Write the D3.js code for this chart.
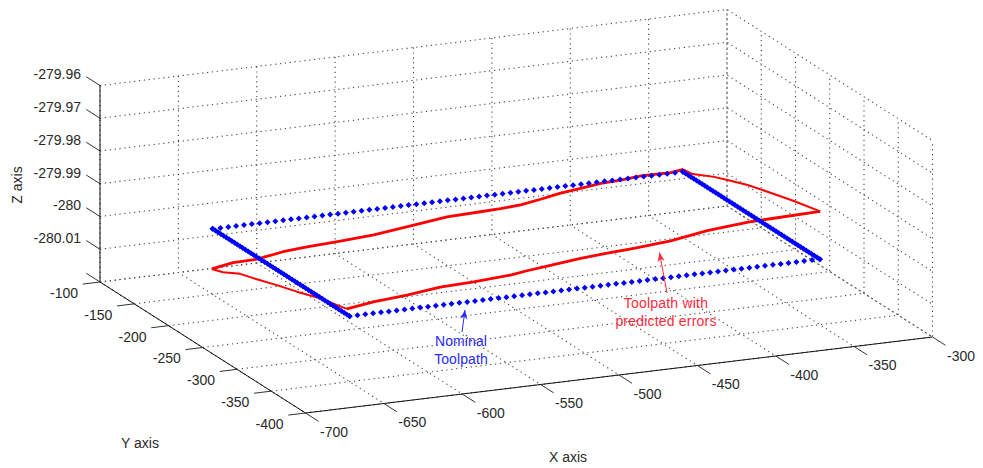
<!DOCTYPE html>
<html>
<head>
<meta charset="utf-8">
<title>Toolpath</title>
<script src="https://cdn.jsdelivr.net/npm/d3@7"></script>
<style>
body { margin: 0; background: #fff; }
text { font-family: "Liberation Sans", Arial, sans-serif; font-size: 14px; fill: #2a2a2a; }
</style>
</head>
<body>
<div id="Chart"></div>
<script>
// ------------------------------------------------------------------
//	toolpath_3d.js
// ------------------------------------------------------------------
const x_ticks = [-700,-650,-600,-550,-500,-450,-400,-350,-300]
const y_ticks = [-100,-150,-200,-250,-300,-350,-400]
const z_ticks = [-279.96,-279.97,-279.98,-279.99,-280,-280.01,-280.02]
const z_labels = ["-279.96","-279.97","-279.98","-279.99","-280","-280.01",""]

// nominal rectangle
const nominal_z = -280
const nominal_x_near = -650
const nominal_x_far = -350
const nominal_y_back = -150
const nominal_y_front = -350
const nominal_long = [-650,-645,-640,-635,-630,-625,-620,-615,-610,-605,-600,-595,-590,-585,-580,-575,-570,-565,-560,-555,-550,-545,-540,-535,-530,-525,-520,-515,-510,-505,-500,-495,-490,-485,-480,-475,-470,-465,-460,-455,-450,-445,-440,-435,-430,-425,-420,-415,-410,-405,-400,-395,-390,-385,-380,-375,-370,-365,-360,-355,-350]
const nominal_short = [-150,-154,-158,-162,-166,-170,-174,-178,-182,-186,-190,-194,-198,-202,-206,-210,-214,-218,-222,-226,-230,-234,-238,-242,-246,-250,-254,-258,-262,-266,-270,-274,-278,-282,-286,-290,-294,-298,-302,-306,-310,-314,-318,-322,-326,-330,-334,-338,-342,-346,-350]

// toolpath with predicted errors: left edge, front edge, right edge, back edge
const pred_x = [-650,-650,-650,-650,-650,-650,-650,-650,
	-634.8,-613.4,-592.2,-570.9,-547.4,-536.8,-519.8,-502.7,-485.6,-468.7,-445.2,-421.8,-405,-394.1,-379.4,-349.8,
	-350,-350,-350,-350,-350,-350,-350,
	-357.7,-376.8,-389.6,-402.4,-415.2,-428,-440.7,-453.5,-466.3,-479.1,-500.4,-521.7,-547.2,-568.5,-589.8,-605,-621.8,-636.9,-650]
const pred_y = [-148.8,-165.3,-190.1,-214.5,-243.7,-272.9,-306.9,-345.9,
	-350,-350,-350,-350,-350,-350,-350,-350,-350,-350,-350,-350,-350,-350,-350,-350,
	-312,-273.6,-244.5,-215.3,-195.3,-164.2,-150.4,
	-150,-150,-150,-150,-150,-150,-150,-150,-150,-150,-150,-150,-150,-150,-150,-150,-150,-150,-148.8]
const pred_z = [-280.0124,-280.0112,-280.0084,-280.0068,-280.0047,-280.0028,-280.0003,-279.9983,
	-279.9965,-279.9957,-279.9945,-279.9941,-279.9934,-279.9927,-279.9918,-279.9909,-279.9903,-279.9898,-279.9889,-279.9871,-279.9864,-279.986,-279.9858,-279.9854,
	-279.9873,-279.9896,-279.9914,-279.9938,-279.9955,-279.9988,-279.9992,
	-279.9998,-279.9997,-280.0002,-280.0005,-280.0013,-280.002,-280.0031,-280.0041,-280.0045,-280.0047,-280.005,-280.0063,-280.0078,-280.0085,-280.009,-280.0096,-280.0109,-280.0111,-280.0124]

chart_proc("#Chart")

// ------------------------------------------------------------------
function chart_proc (area_graph)
{
const width = 983
const height = 468

// the plot is an orthographic view, each data axis has a screen x and y part
const origin = {x: 100, y: 282}
const x_h = d3.scaleLinear().domain([-700,-300]).range([0,627])
const x_v = d3.scaleLinear().domain([-700,-300]).range([0,-76])
const y_h = d3.scaleLinear().domain([-100,-400]).range([0,205.5])
const y_v = d3.scaleLinear().domain([-100,-400]).range([0,131])
const z_v = d3.scaleLinear().domain([-280.02,-279.96]).range([0,-196.5])

function project (x,y,z)
	{
	return [origin.x + x_h(x) + y_h(y), origin.y + x_v(x) + y_v(y) + z_v(z)]
	}

const line = d3.line()

const svg = d3.select(area_graph).append("svg")
	.attr("width", width)
	.attr("height", height)

// grid
const x_min = -700, x_max = -300, y_min = -400, y_max = -100
const z_min = -280.02, z_max = -279.96
const grid = []
x_ticks.forEach(function(x) {
	grid.push([project(x,y_max,z_max), project(x,y_max,z_min), project(x,y_min,z_min)])
})
y_ticks.forEach(function(y) {
	grid.push([project(x_min,y,z_min), project(x_max,y,z_min), project(x_max,y,z_max)])
})
z_ticks.forEach(function(z) {
	grid.push([project(x_min,y_max,z), project(x_max,y_max,z), project(x_max,y_min,z)])
})

svg.append("g").selectAll("path")
	.data(grid)
	.enter().append("path")
	.attr("d", line)
	.attr("fill", "none")
	.attr("stroke", "#444")
	.attr("stroke-width", 1.1)
	.attr("stroke-dasharray", "1.2 3.7")

// axis lines
const axes = [
	[project(x_min,y_max,z_max), project(x_min,y_max,z_min)],
	[project(x_min,y_max,z_min), project(x_min,y_min,z_min)],
	[project(x_min,y_min,z_min), project(x_max,y_min,z_min)]
]
svg.append("g").selectAll("path")
	.data(axes)
	.enter().append("path")
	.attr("d", line)
	.attr("fill", "none")
	.attr("stroke", "#111")

// ticks and labels
const g_ticks = svg.append("g").attr("fill", "none").attr("stroke", "#333")

x_ticks.forEach(function(x) {
	const p = project(x,y_min,z_min)
	g_ticks.append("path").attr("d", line([p, project(x,y_min-19,z_min)]))
	svg.append("text").attr("x", p[0]+28.5).attr("y", p[1]+19)
		.attr("dy", "0.35em").attr("text-anchor", "middle").text(x)
})
y_ticks.forEach(function(y) {
	const p = project(x_min,y,z_min)
	g_ticks.append("path").attr("d", line([p, project(x_min-11,y,z_min)]))
	svg.append("text").attr("x", p[0]-36).attr("y", p[1]+11)
		.attr("dy", "0.35em").attr("text-anchor", "middle").text(y)
})
z_ticks.forEach(function(z,i) {
	const p = project(x_min,y_max,z)
	g_ticks.append("path").attr("d", line([p, project(x_min,y_max+20,z)]))
	svg.append("text").attr("x", p[0]-19).attr("y", p[1]-11)
		.attr("dy", "0.35em").attr("text-anchor", "end").text(z_labels[i])
})

svg.append("text").attr("x", 568).attr("y", 457)
	.attr("dy", "0.35em").attr("text-anchor", "middle").text("X axis")
svg.append("text").attr("x", 140).attr("y", 443)
	.attr("dy", "0.35em").attr("text-anchor", "middle").text("Y axis")
svg.append("text").attr("transform", "translate(17,185) rotate(-90)")
	.attr("dy", "0.35em").attr("text-anchor", "middle").text("Z axis")

// toolpath with predicted errors, the long edges come out heavier
const pred = pred_x.map(function(x,i) { return project(x,pred_y[i],pred_z[i]) })
const pred_parts = [
	{pts: pred.slice(0,8), w: 2},
	{pts: pred.slice(7,24), w: 2.8},
	{pts: pred.slice(23,31), w: 2},
	{pts: pred.slice(30), w: 2.8}
]
svg.append("g").selectAll("path")
	.data(pred_parts)
	.enter().append("path")
	.attr("d", function(d) { return line(d.pts) })
	.attr("fill", "none")
	.attr("stroke", "#f00")
	.attr("stroke-width", function(d) { return d.w })
	.attr("stroke-linejoin", "round")

// nominal toolpath, the dots show up as small diamonds
const nominal = []
nominal_long.forEach(function(x) {
	nominal.push(project(x,nominal_y_back,nominal_z))
	nominal.push(project(x,nominal_y_front,nominal_z))
})
nominal_short.forEach(function(y) {
	nominal.push(project(nominal_x_near,y,nominal_z))
	nominal.push(project(nominal_x_far,y,nominal_z))
})
const marker = d3.symbol().type(d3.symbolSquare).size(18)
svg.append("g").selectAll("path")
	.data(nominal)
	.enter().append("path")
	.attr("d", marker)
	.attr("transform", function(d) { return "translate(" + d[0] + "," + d[1] + ") rotate(45)" })
	.attr("fill", "#00f")

// annotations
annotation_proc(svg, "#ff2a3a", [667,293], [659.5,252.5], [[666,303,"Toolpath with"],[666,321,"predicted errors"]], "0.2px")
annotation_proc(svg, "#2a2aff", [462,332], [465,310], [[461,341,"Nominal"],[461,359,"Toolpath"]], "0.1px")
}

// ------------------------------------------------------------------
function annotation_proc (svg,color,tail,tip,labels,spacing)
{
const angle = Math.atan2(tip[1]-tail[1], tip[0]-tail[0]) * 180 / Math.PI

svg.append("line")
	.attr("x1", tail[0]).attr("y1", tail[1])
	.attr("x2", tip[0]).attr("y2", tip[1])
	.attr("stroke", color)
	.attr("stroke-width", 1)

svg.append("path")
	.attr("d", "M0,0L-9,-3.6L-6.5,0L-9,3.6Z")
	.attr("transform", "translate(" + tip[0] + "," + tip[1] + ") rotate(" + angle + ")")
	.attr("fill", color)

labels.forEach(function(d) {
	svg.append("text").attr("x", d[0]).attr("y", d[1])
		.attr("dy", "0.35em").attr("text-anchor", "middle")
		.style("letter-spacing", spacing)
		.style("fill", color).text(d[2])
})
}

// ------------------------------------------------------------------
</script>
</body>
</html>
